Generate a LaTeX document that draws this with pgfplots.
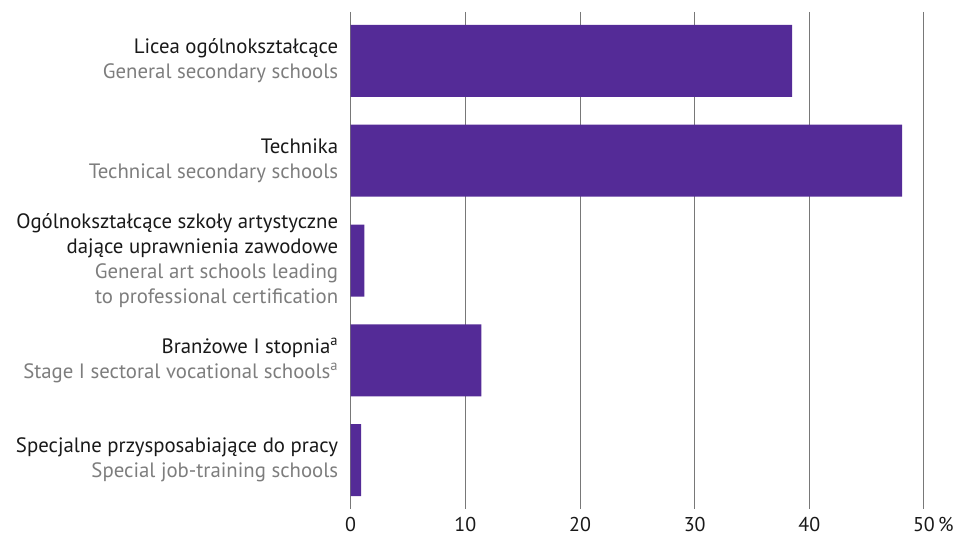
\documentclass[border=0pt]{standalone}
\usepackage{fontspec}
\setmainfont{PT Sans}
\usepackage{pgfplots}
\pgfplotsset{compat=1.18}
\definecolor{barpurple}{RGB}{84,43,151}
\definecolor{lblgray}{RGB}{125,125,125}
\definecolor{gridgray}{RGB}{120,120,120}
\definecolor{txt}{RGB}{25,25,25}
\begin{document}
\begin{tikzpicture}
\begin{axis}[
  name=ax,
  scale only axis,
  width=573.3pt, height=497pt,
  xbar, bar width=72pt,
  xmin=0, xmax=50,
  ymin=-0.49, ymax=4.49,
  y dir=reverse,
  axis line style={draw=none},
  xtick={0,10,20,30,40,50},
  xticklabels={0,10,20,30,40,{50\rlap{\,\%}}},
  ytick={0,1,2,3,4},
  yticklabels={
    {\textcolor{txt}{Licea ogólnokształcące}\\\textcolor{lblgray}{General secondary schools}},
    {\textcolor{txt}{Technika}\\\textcolor{lblgray}{Technical secondary schools}},
    {\textcolor{txt}{Ogólnokształcące szkoły artystyczne}\\\textcolor{txt}{dające uprawnienia zawodowe}\\\textcolor{lblgray}{General art schools leading}\\\textcolor{lblgray}{to professional certification}},
    {\textcolor{txt}{Branżowe I stopnia\textsuperscript{a}}\\\textcolor{lblgray}{Stage I sectoral vocational schools\textsuperscript{a}}},
    {\textcolor{txt}{Specjalne przysposabiające do pracy}\\\textcolor{lblgray}{Special job-training schools}}
  },
  yticklabel style={align=right, font=\fontsize{20.8}{25}\selectfont, xshift=-9pt},
  xticklabel style={font=\fontsize{20}{24}\selectfont, text=txt, yshift=-5pt},
  /pgf/number format/assume math mode=true,
  major tick length=0pt,
  xmajorgrids,
  grid style={gridgray, line width=1pt},
]
\addplot[fill=barpurple, draw=none] coordinates {
  (38.5,0) (48.1,1) (1.2,2) (11.4,3) (0.9,4)
};
\end{axis}
\pgfresetboundingbox
\useasboundingbox ([shift={(-350.7pt,-28pt)}]ax.south west) rectangle ++(958pt,537pt);
\end{tikzpicture}
\end{document}
